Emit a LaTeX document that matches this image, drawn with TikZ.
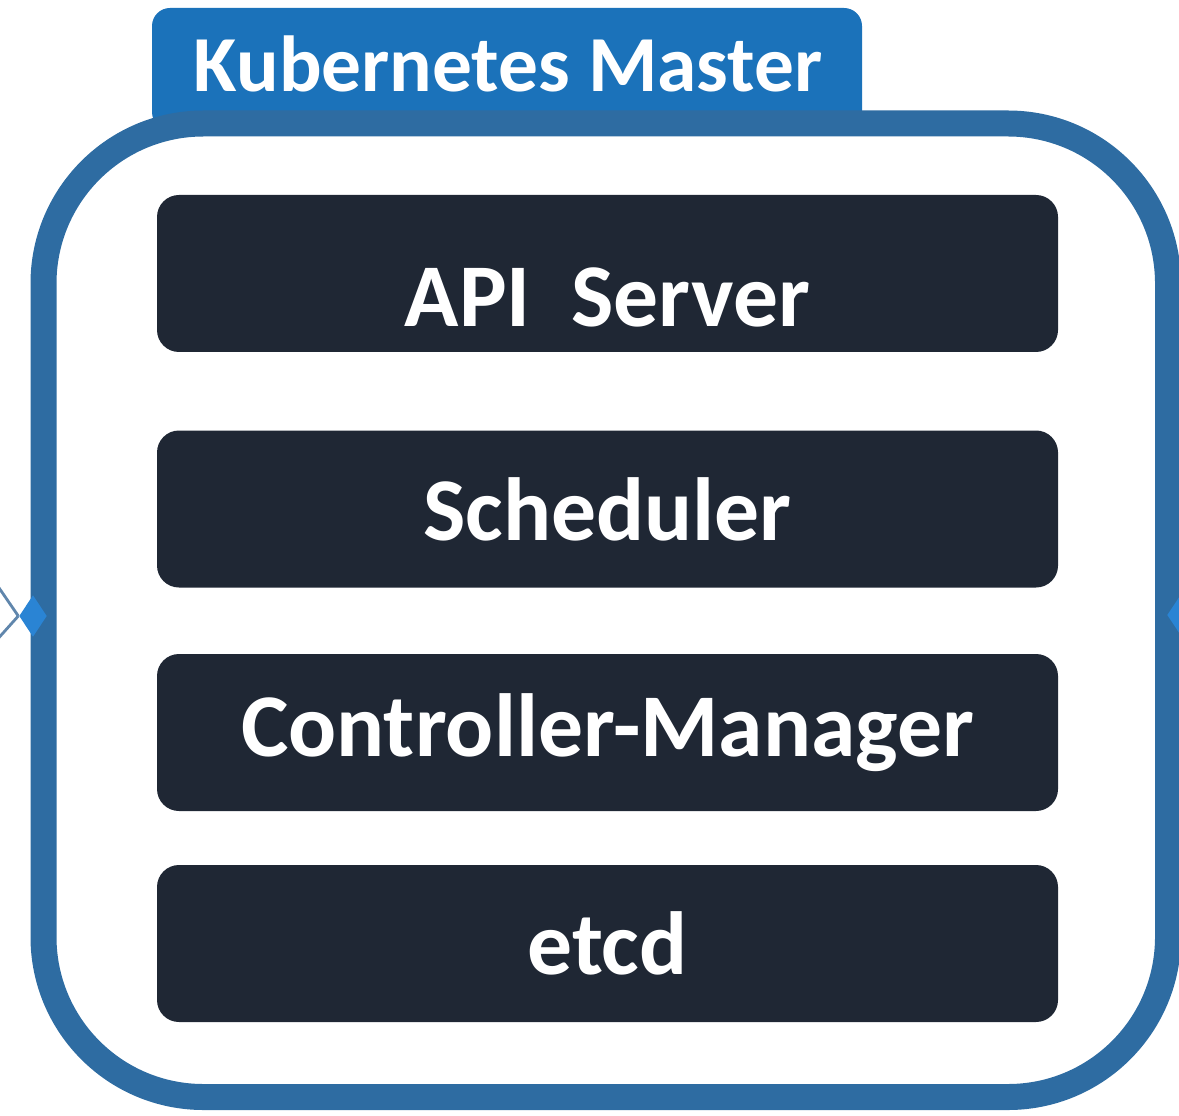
\documentclass[tikz,border=0pt]{standalone}
\usepackage{fontspec}
\setmainfont{Carlito}
\usetikzlibrary{shapes.geometric}
\definecolor{frameblue}{RGB}{46,108,162}
\definecolor{tabblue}{RGB}{27,114,186}
\definecolor{boxdark}{RGB}{31,39,52}
\definecolor{tipblue}{RGB}{42,132,212}
\definecolor{wireblue}{RGB}{96,134,172}
\tikzset{
  parttext/.style={text=white, font=\fontsize{25.5}{30}\selectfont\bfseries},
  part/.style={parttext, fill=boxdark, rounded corners=0.22cm, minimum width=9.01cm, minimum height=1.57cm},
  tip/.style={diamond, fill=tipblue, inner sep=0pt, minimum width=0.28cm, minimum height=0.42cm}
}
\begin{document}
\begin{tikzpicture}
			\useasboundingbox (0,0) rectangle (11.79,-11.15);
			\clip (0,0) rectangle (11.79,-11.15);

			\fill[tabblue, rounded corners=0.18cm] (1.52,-1.30) -- (1.52,-0.08) -- (8.62,-0.08) -- (8.62,-1.30) -- cycle;
			\node[text=white, font=\fontsize{22.6}{27}\selectfont\bfseries] (title) at (5.08,-0.64) {Kubernetes Master};

			\draw[frameblue, line width=0.26cm, rounded corners=1.6cm] (0.435,-1.235) rectangle (11.68,-10.97);

			\node[part] (api)   at (6.075,-2.735) {};
			\node[parttext] (apitext) at ([yshift=-0.24cm]api.center) {API\ \ Server};
			\node[part] (sched) at (6.075,-5.09)  {Scheduler};
			\node[part] (ctrl)  at (6.075,-7.325) {Controller-Manager};
			\node[part] (etcd)  at (6.075,-9.435) {etcd};

			\node[tip] (inL) at (0.33,-6.16) {};
			\node[tip] (inR) at (11.81,-6.15) {};
			\coordinate (w1) at (-0.05,-5.82);
			\coordinate (w2) at (-0.05,-6.42);
			\draw[wireblue, line width=0.8pt] (w1) -- (inL.west);
			\draw[wireblue, line width=0.8pt] (w2) -- (inL.west);
		\end{tikzpicture}
\end{document}
